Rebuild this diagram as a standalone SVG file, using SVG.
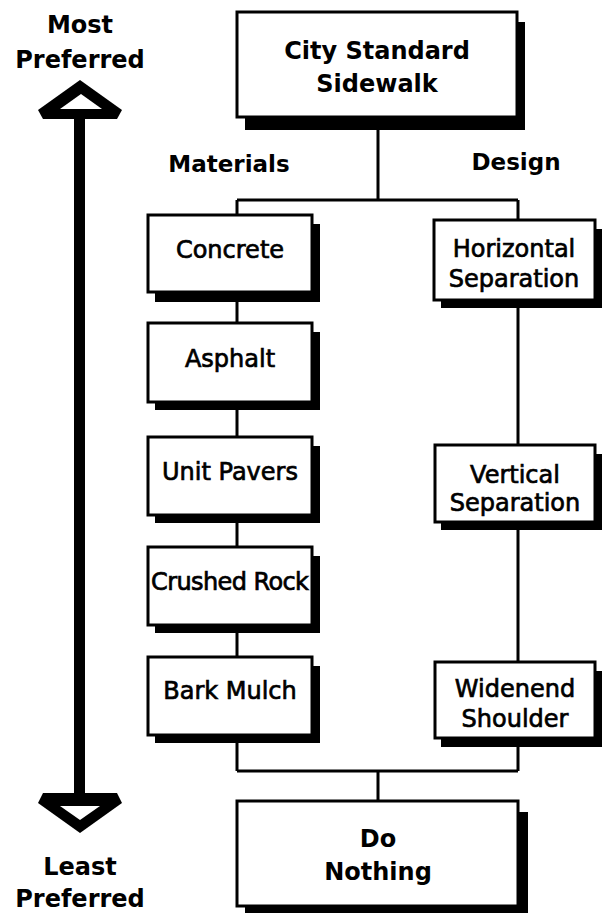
<svg xmlns="http://www.w3.org/2000/svg" width="602" height="913" viewBox="0 0 602 913">
<style>
.box{fill:#fff;stroke:#000;stroke-width:3}
.sh{fill:#000}
.ln{fill:none;stroke:#000;stroke-width:3}
.t{font-family:"DejaVu Sans",Verdana,sans-serif;font-size:24px;text-anchor:middle;fill:#000;stroke:#000;stroke-width:0.7}
.b{font-family:"DejaVu Sans",Verdana,sans-serif;font-weight:bold;font-size:24px;text-anchor:middle;fill:#000}
.h{font-size:23px}
</style>
<rect width="602" height="913" fill="#fff"/>
<g id="scale">
<polygon points="80,80 122,110 117,119 43,119 38,110" fill="#000"/>
<polygon points="81,94 102,109 60,109" fill="#fff"/>
<rect x="74" y="118" width="11" height="676" fill="#000"/>
<polygon points="43,793 117,793 122,803 80,833 38,803" fill="#000"/>
<polygon points="60,806 100,806 80,820" fill="#fff"/>
<text class="b" x="80" y="33">Most</text>
<text class="b" x="80" y="68">Preferred</text>
<text class="b" x="80" y="875">Least</text>
<text class="b" x="80" y="907">Preferred</text>
</g>
<g id="labels">
<text class="b h" x="229" y="172">Materials</text>
<text class="b h" x="516" y="170">Design</text>
</g>
<g id="connectors">
<path class="ln" d="M378,130 V200 M237,200 H518 M237,200 V771 M518,200 V771 M237,771 H518 M378,771 V801"/>
</g>
<g id="city">
<rect class="sh" x="245" y="22" width="280" height="108"/>
<rect class="box" x="237" y="12" width="280" height="105"/>
<text class="b" x="377" y="59">City Standard</text>
<text class="b" x="377" y="92">Sidewalk</text>
</g>
<g id="concrete">
<rect class="sh" x="155" y="224" width="165" height="78"/>
<rect class="box" x="148" y="215" width="164" height="77"/>
<text class="t" x="230" y="258">Concrete</text>
</g>
<g id="asphalt">
<rect class="sh" x="155" y="332" width="165" height="78"/>
<rect class="box" x="148" y="323" width="164" height="79"/>
<text class="t" x="230" y="367">Asphalt</text>
</g>
<g id="unitpavers">
<rect class="sh" x="155" y="446" width="165" height="77"/>
<rect class="box" x="148" y="437" width="164" height="78"/>
<text class="t" x="230" y="480">Unit Pavers</text>
</g>
<g id="crushedrock">
<rect class="sh" x="155" y="556" width="165" height="77"/>
<rect class="box" x="148" y="547" width="164" height="78"/>
<text class="t" x="230" y="590" textLength="158">Crushed Rock</text>
</g>
<g id="barkmulch">
<rect class="sh" x="155" y="666" width="165" height="77"/>
<rect class="box" x="148" y="657" width="164" height="78"/>
<text class="t" x="230" y="699">Bark Mulch</text>
</g>
<g id="horizontal">
<rect class="sh" x="441" y="229" width="161" height="79"/>
<rect class="box" x="434" y="220" width="161" height="80"/>
<text class="t" x="514" y="257">Horizontal</text>
<text class="t" x="514" y="287">Separation</text>
</g>
<g id="vertical">
<rect class="sh" x="441" y="454" width="161" height="76"/>
<rect class="box" x="435" y="445" width="160" height="77"/>
<text class="t" x="515" y="483">Vertical</text>
<text class="t" x="515" y="511">Separation</text>
</g>
<g id="widened">
<rect class="sh" x="441" y="671" width="161" height="76"/>
<rect class="box" x="435" y="662" width="160" height="76"/>
<text class="t" x="515" y="697">Widenend</text>
<text class="t" x="515" y="727">Shoulder</text>
</g>
<g id="donothing">
<rect class="sh" x="245" y="812" width="283" height="101"/>
<rect class="box" x="237" y="801" width="281" height="105"/>
<text class="b" x="378" y="847">Do</text>
<text class="b" x="378" y="880">Nothing</text>
</g>
</svg>
